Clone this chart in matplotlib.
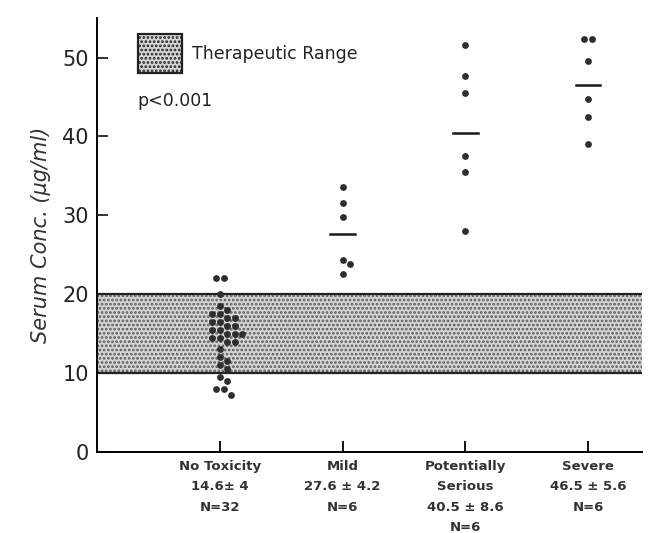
import matplotlib.pyplot as plt
import numpy as np

# data
categories = ["No Toxicity", "Mild", "Potentially\nSerious", "Severe"]
stats = ["14.6± 4\nN=32", "27.6 ± 4.2\nN=6", "40.5 ± 8.6\nN=6", "46.5 ± 5.6\nN=6"]
no_toxicity = [22, 22, 20, 18.5, 18, 17.5, 17.5, 17, 17, 16.5, 16.5, 16, 16, 15.5, 15.5,
               15, 15, 15, 14.5, 14.5, 14, 14, 13, 12, 11.5, 11, 10.5, 9.5, 9, 8, 8, 7.2]
mild = [33.6, 31.5, 29.8, 24.3, 23.8, 22.5]
pot_serious = [51.6, 47.6, 45.5, 37.5, 35.5, 28.0]
severe = [52.4, 52.4, 49.6, 44.8, 42.5, 39.1]
means = [None, 27.6, 40.5, 46.5]
ther_low, ther_high = 10, 20

groups = [no_toxicity, mild, pot_serious, severe]

plt.rcParams['hatch.linewidth'] = 1.3

fig = plt.figure(figsize=(6.48, 5.33), dpi=100)
ax = fig.add_axes([0.150, 0.152, 0.841, 0.814])
ax.set_xlim(0, 4.44)
ax.set_ylim(0, 55)

# pixels per data unit, used for a simple swarm layout
px_x = 0.841 * 648 / 4.44
px_y = 0.814 * 533 / 55
d = 7.5

# therapeutic range band
ax.axhspan(ther_low, ther_high, facecolor='#d4d4d4', edgecolor='#5a5a5a',
           hatch='....', linewidth=0, zorder=1)
ax.axhline(ther_low, color='#222222', lw=1.6, zorder=2)
ax.axhline(ther_high, color='#222222', lw=1.6, zorder=2)

for i, vals in enumerate(groups):
    pos = i + 1
    placed = []
    # place dots row by row (equal values side by side), shifting a row sideways
    # until it no longer overlaps what is already drawn
    for v in sorted(set(vals), reverse=True):
        n = vals.count(v)
        base = [(j - (n - 1) / 2) * d for j in range(n)]
        k = 0
        while True:
            s = ((k + 1) // 2) * (1 if k % 2 else -1) * d / 2
            row = [b + s for b in base]
            if all(np.hypot(x - px, (v - py) * px_y) >= d
                   for x in row for px, py in placed):
                break
            k += 1
        placed += [(x, v) for x in row]
    xs = np.array([p[0] for p in placed])
    ys = np.array([p[1] for p in placed])
    ax.scatter(pos + xs / px_x, ys, s=24, color='#2e2e2e', zorder=3, linewidths=0)
    if means[i] is not None:
        ax.plot([pos - 0.1, pos + 0.1], [means[i], means[i]], color='#1a1a1a',
                lw=1.8, zorder=3)

ax.spines['top'].set_visible(False)
ax.spines['right'].set_visible(False)
ax.spines['left'].set_linewidth(1.4)
ax.spines['bottom'].set_linewidth(1.4)

ax.set_yticks(range(0, 51, 10))
ax.tick_params(axis='y', direction='in', length=8, width=1.3, labelsize=15,
               colors='#222222', pad=6)
ax.set_xticks(range(1, 5))
ax.set_xticklabels([])
ax.tick_params(axis='x', direction='in', length=8, width=1.3)

for i, (c, s) in enumerate(zip(categories, stats)):
    ax.text(i + 1, -1.0, c + "\n" + s, ha='center', va='top', fontsize=9.5,
            fontweight='bold', color='#333333', linespacing=1.75)

ax.set_ylabel("Serum Conc. (µg/ml)", fontsize=15, style='italic',
              color='#333333', labelpad=8)

# legend box
ax.add_patch(plt.Rectangle((0.33, 48.0), 0.36, 5.0, facecolor='#d4d4d4',
                           edgecolor='#222222', hatch='....', lw=1.6, zorder=3))
ax.text(0.77, 50.5, "Therapeutic Range", fontsize=12.5, va='center',
        color='#222222')
ax.text(0.33, 44.5, "p<0.001", fontsize=12.5, va='center', color='#222222')

fig.savefig("out.png", dpi=100)
